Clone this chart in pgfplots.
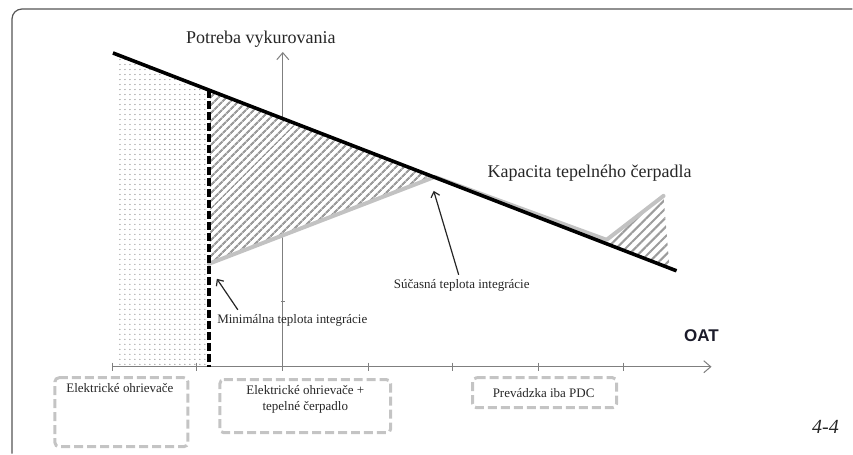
\documentclass[border=0pt]{standalone}
\usepackage{pgfplots}
\pgfplotsset{compat=1.18}
\usepackage{fontspec}
\setmainfont{Liberation Serif}
\newfontfamily\sansb{Liberation Sans}
\usetikzlibrary{arrows.meta,patterns.meta}
\definecolor{axgray}{HTML}{7F7F7F}
\definecolor{capgray}{HTML}{C2C2C2}
\definecolor{boxgray}{HTML}{C4C4C4}
\definecolor{hatchgray}{HTML}{9C9C9C}
\definecolor{dotgray}{HTML}{8A8A8A}
\definecolor{framegray}{HTML}{555555}
\definecolor{oat}{HTML}{1B1B2A}
\begin{document}
\begin{tikzpicture}
\begin{axis}[
  width=853pt, height=454pt, scale only axis,
  xmin=0, xmax=853, ymin=0, ymax=454, y dir=reverse,
  axis lines=none, clip=false,
]
% invisible extent
\addplot[draw=none] coordinates {(0,0) (853,454)};
% frame
\addplot[framegray, line width=1.2pt, rounded corners=10pt] coordinates {(12,454) (12,9) (853,9)};
% x axis
\addplot[axgray, line width=1pt, -{Straight Barb[length=7pt,width=12pt]}] coordinates {(112,367) (712,367)};
\addplot[axgray, line width=1pt] coordinates {(113,363) (113,371)};
\addplot[axgray, line width=1pt] coordinates {(197,363) (197,371)};
\addplot[axgray, line width=1pt] coordinates {(369,363) (369,371)};
\addplot[axgray, line width=1pt] coordinates {(453,363) (453,371)};
\addplot[axgray, line width=1pt] coordinates {(539,363) (539,371)};
\addplot[axgray, line width=1pt] coordinates {(624,363) (624,371)};
\addplot[axgray, line width=0.8pt] coordinates {(281,302) (285,302)};
% y axis
\addplot[axgray, line width=1pt, -{Straight Barb[length=7pt,width=12pt]}] coordinates {(283,371) (283,52)};
% dotted region
\addplot[draw=none, pattern={Dots[distance=5pt,radius=0.65pt]}, pattern color=dotgray]
  coordinates {(118,55) (206,88.8) (206,366) (118,366)} -- cycle;
% hatched region left (white under it hides the y axis)
\addplot[draw=none, fill=white]
  coordinates {(210,90.5) (435,177.5) (210,264)} -- cycle;
\addplot[draw=none, pattern={Lines[angle=45,distance=5.4pt,line width=2.1pt]}, pattern color=hatchgray]
  coordinates {(210,90.5) (435,177.5) (210,264)} -- cycle;
% hatched region right
\addplot[draw=none, pattern={Lines[angle=45,distance=6.6pt,line width=2.1pt]}, pattern color=hatchgray]
  coordinates {(607,243.5) (664,197) (670,268)} -- cycle;
% capacity line (grey)
\addplot[capgray, line width=4pt, line join=round, line cap=round] coordinates {(209,264) (435,177) (607,240) (664,196)};
% demand line (black)
\addplot[black, line width=3.6pt] coordinates {(113,53) (677,271)};
% dashed minimum line
\addplot[black, line width=3.6pt, dash pattern=on 8pt off 3pt] coordinates {(209,90) (209,367)};
% arrows
\addplot[black!85, line width=1.2pt, -{Straight Barb[length=5pt,width=9pt]}] coordinates {(238,310) (217,279)};
\addplot[black!85, line width=1.2pt, -{Straight Barb[length=5pt,width=9pt]}] coordinates {(459,275) (434,191)};
% dashed boxes
\addplot[boxgray, line width=3pt, dash pattern=on 9pt off 4pt, rounded corners=4pt] coordinates {(55,378) (188,378) (188,447) (55,447)} -- cycle;
\addplot[boxgray, line width=3pt, dash pattern=on 9pt off 4pt, rounded corners=4pt] coordinates {(220,380) (391,380) (391,433) (220,433)} -- cycle;
\addplot[boxgray, line width=3pt, dash pattern=on 9pt off 4pt, rounded corners=4pt] coordinates {(473,378) (617,378) (617,408) (473,408)} -- cycle;
% texts
\node[font=\fontsize{18}{20}\selectfont, text=black!85] at (axis cs:261,39) {Potreba vykurovania};
\node[font=\fontsize{18}{20}\selectfont, text=black!85] at (axis cs:590,173) {Kapacita tepelného čerpadla};
\node[font=\fontsize{13}{15}\selectfont, text=black!85] at (axis cs:292.5,321) {Minimálna teplota integrácie};
\node[font=\fontsize{13}{15}\selectfont, text=black!85] at (axis cs:462,286) {Súčasná teplota integrácie};
\node[font=\fontsize{13}{15}\selectfont, text=black!85] at (axis cs:120,388) {Elektrické ohrievače};
\node[font=\fontsize{13}{16}\selectfont, text=black!85, align=center] at (axis cs:305.5,400) {Elektrické ohrievače +\\tepelné čerpadlo};
\node[font=\fontsize{13}{15}\selectfont, text=black!85] at (axis cs:544,393) {Prevádzka iba PDC};
\node[font=\sansb\bfseries\fontsize{17}{19}\selectfont, text=oat] at (axis cs:702,336) {OAT};
\node[font=\itshape\fontsize{20}{22}\selectfont, text=black!85] at (axis cs:826,427) {4-4};
\end{axis}
\end{tikzpicture}
\end{document}
